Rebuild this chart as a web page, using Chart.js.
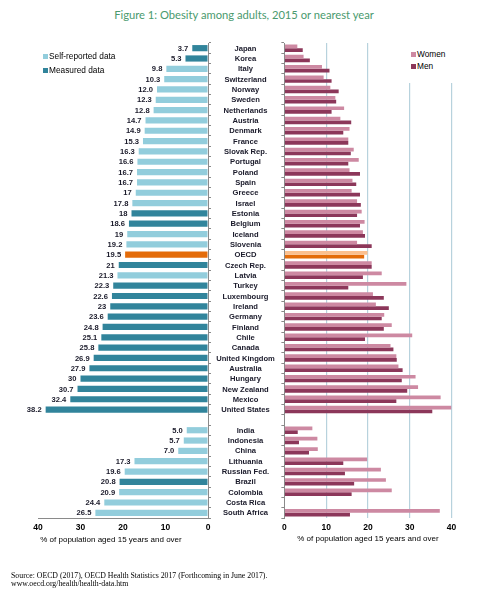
<!DOCTYPE html>
<html>
<head>
<meta charset="utf-8">
<script src="https://cdn.jsdelivr.net/npm/chart.js@4.4.1/dist/chart.umd.min.js"></script>
<style>
body { margin: 0; background: #fff; width: 488px; height: 590px; position: relative; overflow: hidden; font-family: "Liberation Sans", Arial, sans-serif; }
#title { position: absolute; top: 8px; left: 0; width: 488px; text-align: center; font-family: Lato, sans-serif; font-size: 11.2px; color: #4a9a6e; }
#leftWrap { position: absolute; left: 0; top: 30px; width: 283px; height: 520px; }
#rightWrap { position: absolute; left: 277px; top: 30px; width: 210px; height: 520px; }
.leg { position: absolute; font-size: 8.3px; color: #000; line-height: 10px; white-space: nowrap; }
.leg i { display: inline-block; width: 5px; height: 5px; margin-right: 1px; vertical-align: 0px; }
#rightLeg { background: #fff; left: 404px; top: 40px; width: 66px; height: 43px; }
#leftTitle { position: absolute; left: 0; width: 222px; top: 535px; text-align: center; font-size: 8px; }
#source { position: absolute; left: 11px; top: 572px; font-family: "Liberation Serif", serif; font-size: 7.8px; line-height: 7.8px; color: #000; }
</style>
</head>
<body>
<div id="title">Figure 1: Obesity among adults, 2015 or nearest year</div>
<div id="leftWrap"><canvas id="leftChart"></canvas></div>
<div id="rightWrap"><canvas id="rightChart"></canvas></div>
<div class="leg" style="left:43px;top:51px"><i style="background:#92CDDC"></i>Self-reported data</div>
<div class="leg" style="left:43px;top:65px"><i style="background:#31849B"></i>Measured data</div>
<div class="leg" id="rightLeg">
  <div style="position:absolute;left:7px;top:9px"><i style="background:#CD89A2"></i>Women</div>
  <div style="position:absolute;left:7px;top:21px"><i style="background:#8C375A"></i>Men</div>
</div>
<div id="leftTitle">% of population aged 15 years and over</div>
<div id="source">Source: OECD (2017), OECD Health Statistics 2017 (Forthcoming in June 2017).<br>www.oecd.org/health/health-data.htm</div>

<script>
// countries, top to bottom ('' = empty row between OECD and partner countries)
const countries = ['Japan', 'Korea', 'Italy', 'Switzerland', 'Norway', 'Sweden', 'Netherlands', 'Austria',
    'Denmark', 'France', 'Slovak Rep.', 'Portugal', 'Poland', 'Spain', 'Greece', 'Israel', 'Estonia',
    'Belgium', 'Iceland', 'Slovenia', 'OECD', 'Czech Rep.', 'Latvia', 'Turkey', 'Luxembourg', 'Ireland',
    'Germany', 'Finland', 'Chile', 'Canada', 'United Kingdom', 'Australia', 'Hungary', 'New Zealand',
    'Mexico', 'United States', '',
    'India', 'Indonesia', 'China', 'Lithuania', 'Russian Fed.', 'Brazil', 'Colombia', 'Costa Rica', 'South Africa']

// total obesity rate as printed on the chart
const totalText = ['3.7', '5.3', '9.8', '10.3', '12.0', '12.3', '12.8', '14.7', '14.9', '15.3', '16.3', '16.6',
    '16.7', '16.7', '17', '17.8', '18', '18.6', '19', '19.2', '19.5', '21', '21.3', '22.3', '22.6', '23',
    '23.6', '24.8', '25.1', '25.8', '26.9', '27.9', '30', '30.7', '32.4', '38.2', '',
    '5.0', '5.7', '7.0', '17.3', '19.6', '20.8', '20.9', '24.4', '26.5']

// S = self-reported, M = measured, O = OECD average
const dataType = ['M', 'M', 'S', 'S', 'S', 'S', 'S', 'S', 'S', 'S', 'S', 'S', 'S', 'S', 'S', 'S', 'M', 'M', 'S', 'S',
    'O', 'M', 'S', 'M', 'M', 'M', 'M', 'M', 'M', 'M', 'M', 'M', 'M', 'M', 'M', 'M', '',
    'S', 'S', 'S', 'S', 'S', 'M', 'S', 'S', 'S']

const women = [3.1, 4.6, 9.0, 9.4, 11.0, 12.2, 14.3, 13.4, 15.6, 15.3, 16.6, 17.8, 15.6, 16.3, 16.1, 17.4, 18.5,
    19.2, 18.8, 17.4, 19.9, 20.9, 23.3, 29.2, 21.2, 21.9, 23.9, 25.7, 30.6, 25.4, 26.8, 27.3, 31.4, 32.0,
    37.4, 40.0, null,
    6.7, 7.9, 8.0, 19.8, 23.1, 24.3, 25.7, null, 37.2]

const men = [4.4, 6.1, 10.8, 11.3, 13.0, 12.4, 11.3, 16.0, 14.1, 15.3, 15.9, 15.3, 18.1, 17.2, 18.1, 18.3, 17.4,
    18.1, 19.3, 20.9, 19.1, 20.9, 18.8, 15.3, 23.8, 25.0, 23.3, 23.8, 19.3, 26.1, 26.9, 28.3, 28.1, 29.4,
    26.8, 35.4, null,
    3.2, 3.5, 5.9, 14.1, 14.5, 16.7, 16.1, null, 15.7]

const xTicks = [0, 10, 20, 30, 40]

const totals = totalText.map(t => t === '' ? null : Number(t))
const typeColor = { S: '#92CDDC', M: '#31849B', O: '#E46C0A', '': '#fff' }
const labelFont = 'bold 7.6px "Liberation Sans", Arial, sans-serif'

const leftLabels = {
    id: 'leftLabels',
    afterDraw(chart) {
        const ctx = chart.ctx
        const ys = chart.scales.y
        const cx = ys.left + ys.width / 2
        ctx.save()
        ctx.font = labelFont
        ctx.fillStyle = '#1a1a2a'
        ctx.textBaseline = 'middle'
        ctx.textAlign = 'center'
        countries.forEach((c, i) => ctx.fillText(c, cx, ys.getPixelForValue(i) + 0.5))
        ctx.textAlign = 'right'
        chart.getDatasetMeta(0).data.forEach((bar, i) => {
            if (totalText[i] === '') return
            ctx.fillText(totalText[i], bar.x - 4, bar.y + 0.5)
        })
        ctx.restore()
    }
}

const tickFont = { family: '"Liberation Sans", Arial, sans-serif', size: 8.5, weight: 'bold' }

new Chart(document.getElementById('leftChart'), {
    type: 'bar',
    data: {
        labels: countries,
        datasets: [{
            data: totals,
            backgroundColor: dataType.map(t => typeColor[t]),
            barPercentage: 0.6,
            categoryPercentage: 1
        }]
    },
    options: {
        indexAxis: 'y',
        responsive: true,
        maintainAspectRatio: false,
        animation: false,
        layout: { padding: { left: 38, top: 13, bottom: 2, right: 0 } },
        plugins: { legend: { display: false }, tooltip: { enabled: false } },
        scales: {
            x: {
                reverse: true,
                min: 0, max: 40,
                afterBuildTicks: s => { s.ticks = xTicks.map(v => ({ value: v })) },
                afterFit: s => { s.height = 30 },
                ticks: { font: tickFont, color: '#000', padding: 5, maxRotation: 0 },
                grid: { display: true, drawOnChartArea: false, drawTicks: false },
                border: { display: true, color: '#8a8a8a', width: 1 }
            },
            y: {
                position: 'right',
                afterFit: s => { s.width = 75 },
                ticks: { display: false },
                grid: { drawOnChartArea: false, drawTicks: true, tickLength: 3, color: '#8a8a8a', offset: true },
                border: { display: true, color: '#8a8a8a', width: 1 }
            }
        }
    },
    plugins: [leftLabels]
})

const isOecd = ctx => countries[ctx.dataIndex] === 'OECD'

new Chart(document.getElementById('rightChart'), {
    type: 'bar',
    data: {
        labels: countries,
        datasets: [{
            label: 'Women',
            data: women,
            backgroundColor: ctx => isOecd(ctx) ? '#FBC08F' : '#CD89A2',
            barPercentage: 1,
            categoryPercentage: 0.72
        }, {
            label: 'Men',
            data: men,
            backgroundColor: ctx => isOecd(ctx) ? '#E36C09' : '#8C375A',
            barPercentage: 1,
            categoryPercentage: 0.72
        }]
    },
    options: {
        indexAxis: 'y',
        responsive: true,
        maintainAspectRatio: false,
        animation: false,
        layout: { padding: { left: 0, top: 13, bottom: 2, right: 35.5 } },
        plugins: { legend: { display: false }, tooltip: { enabled: false } },
        scales: {
            x: {
                min: 0, max: 40,
                afterBuildTicks: s => { s.ticks = xTicks.map(v => ({ value: v })) },
                afterFit: s => { s.height = 30 },
                ticks: { font: tickFont, color: '#000', padding: 5, maxRotation: 0 },
                grid: {
                    drawTicks: false,
                    lineWidth: 1.2,
                    color: ctx => ctx.tick && ctx.tick.value === 0 ? 'rgba(0,0,0,0)' : '#B7D2DD'
                },
                border: { display: false },
                title: {
                    display: true,
                    text: '% of population aged 15 years and over',
                    font: { family: '"Liberation Sans", Arial, sans-serif', size: 8 },
                    color: '#000',
                    padding: { top: 4, bottom: 4 }
                }
            },
            y: {
                position: 'left',
                afterFit: s => { s.width = 5 },
                ticks: { display: false },
                grid: { drawOnChartArea: false, drawTicks: true, tickLength: 3, color: '#8a8a8a', offset: true },
                border: { display: true, color: '#8a8a8a', width: 1 }
            }
        }
    }
})
</script>
</body>
</html>
